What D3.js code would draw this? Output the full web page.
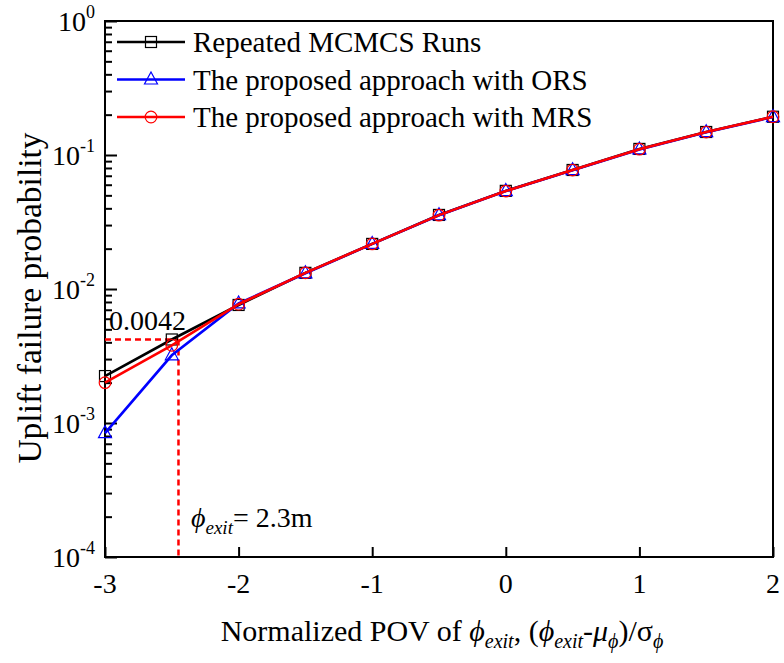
<!DOCTYPE html>
<html>
<head>
<meta charset="utf-8">
<script src="https://cdn.jsdelivr.net/npm/d3@7"></script>
</head>
<body style="margin:0">
<svg id="chart" width="784" height="663" style="display:block;background:#fff"></svg>
<script>
// Normalized POV of phi_exit
const xValues = [-3, -2.5, -2, -1.5, -1, -0.5, 0, 0.5, 1, 1.5, 2];
// Uplift failure probability per method
const mcmcsRuns = [0.00224, 0.0042, 0.0076, 0.0132, 0.0217, 0.0357, 0.054, 0.0773, 0.111, 0.1485, 0.193];
const orsApproach = [0.00084, 0.0032, 0.0078, 0.0131, 0.0217, 0.0355, 0.0538, 0.077, 0.110, 0.148, 0.192];
const mrsApproach = [0.00200, 0.0038, 0.0077, 0.0132, 0.0217, 0.0356, 0.0538, 0.0772, 0.1105, 0.1483, 0.193];
const seriesNames = ["Repeated MCMCS Runs", "The proposed approach with ORS", "The proposed approach with MRS"];
const xTicks = [-3, -2, -1, 0, 1, 2];
const yExponents = [0, -1, -2, -3, -4];
// Annotated threshold point
const markX = -2.45;
const markY = 0.0042;

const svg = d3.select("#chart");
const pLeft = 105, pRight = 773, pTop = 21, pBottom = 557;
const fontFam = '"Liberation Serif", monospace';

const x = d3.scaleLinear().domain([-3, 2]).range([pLeft, pRight]);
const y = d3.scaleLog().domain([1e-4, 1]).range([pBottom, pTop]);

function txt(parent, size) {
  return parent.append("text")
    .attr("font-size", size)
    .style("font-family", fontFam)
    .attr("fill", "#000");
}

// Minor ticks on y axis
const minor = [];
for (let e = -4; e < 0; e++) for (let m = 2; m <= 9; m++) minor.push(m * Math.pow(10, e));

const axisG = svg.append("g");
axisG.append("g")
  .attr("transform", `translate(${pLeft},0)`)
  .call(d3.axisLeft(y).tickValues(minor).tickSize(-7).tickFormat(""))
  .call(g => g.select(".domain").remove())
  .call(g => g.selectAll("line").attr("stroke", "#000").attr("stroke-width", 2));
axisG.append("g")
  .attr("transform", `translate(${pLeft},0)`)
  .call(d3.axisLeft(y).tickValues(yExponents.map(e => Math.pow(10, e))).tickSize(-12).tickFormat(""))
  .call(g => g.select(".domain").remove())
  .call(g => g.selectAll("line").attr("stroke", "#000").attr("stroke-width", 2));
axisG.append("g")
  .attr("transform", `translate(0,${pBottom})`)
  .call(d3.axisBottom(x).tickValues(xTicks).tickSize(-10).tickFormat(""))
  .call(g => g.select(".domain").remove())
  .call(g => g.selectAll("line").attr("stroke", "#000").attr("stroke-width", 2));

// Frame
svg.append("rect")
  .attr("x", pLeft).attr("y", pTop)
  .attr("width", pRight - pLeft).attr("height", pBottom - pTop)
  .attr("fill", "none").attr("stroke", "#000").attr("stroke-width", 2);

const textLayer = svg.append("g");

// Y tick labels (10^n)
yExponents.forEach(e => {
  const t = txt(textLayer, 28)
    .attr("x", pLeft - 10).attr("y", y(Math.pow(10, e)) + 10)
    .attr("text-anchor", "end");
  t.append("tspan").text("10");
  t.append("tspan").attr("dy", -13).attr("font-size", 18).text(String(e));
});

// X tick labels
xTicks.forEach(d => {
  txt(textLayer, 28).attr("x", x(d)).attr("y", 593).attr("text-anchor", "middle").text(d);
});

// Axis titles
const sub = (t, s, fs) => t.append("tspan").attr("font-style", "italic").attr("font-size", fs).attr("dy", 7).text(s);
const xt = txt(textLayer, 30).attr("x", 442).attr("y", 641).attr("text-anchor", "middle");
xt.append("tspan").text("Normalized POV of ");
xt.append("tspan").attr("font-style", "italic").text("ϕ");
sub(xt, "exit", 20);
xt.append("tspan").attr("dy", -7).text(", (");
xt.append("tspan").attr("font-style", "italic").text("ϕ");
sub(xt, "exit", 20);
xt.append("tspan").attr("dy", -7).text("-");
xt.append("tspan").attr("font-style", "italic").text("μ");
sub(xt, "ϕ", 20);
xt.append("tspan").attr("dy", -7).text(")/σ");
sub(xt, "ϕ", 20);

txt(textLayer, 33.5)
  .attr("transform", "translate(41,298) rotate(-90)")
  .attr("text-anchor", "middle")
  .text("Uplift failure probability");

// Dashed guide lines at the annotated point
const guide = svg.append("g").attr("stroke", "#ff0000").attr("stroke-width", 2.5)
  .attr("stroke-dasharray", "6,4").attr("fill", "none");
guide.append("line").attr("x1", pLeft).attr("x2", x(markX)).attr("y1", y(markY)).attr("y2", y(markY));
guide.append("line").attr("x1", x(markX)).attr("x2", x(markX)).attr("y1", y(markY)).attr("y2", pBottom);

txt(textLayer, 28).attr("x", 109).attr("y", 330).text(String(markY));
const pt = txt(textLayer, 28).attr("x", 191).attr("y", 527);
pt.append("tspan").attr("font-style", "italic").text("ϕ");
sub(pt, "exit", 19);
pt.append("tspan").attr("dy", -7).text("= 2.3m");

// Series
const series = [
  { name: seriesNames[0], values: mcmcsRuns, color: "#000000", marker: "square" },
  { name: seriesNames[1], values: orsApproach, color: "#0000ff", marker: "triangle" },
  { name: seriesNames[2], values: mrsApproach, color: "#ff0000", marker: "circle" }
];

function drawMarker(g, type, cx, cy, color) {
  if (type === "square") {
    g.append("rect").attr("x", cx - 5.5).attr("y", cy - 5.5).attr("width", 11).attr("height", 11)
      .attr("fill", "none").attr("stroke", color).attr("stroke-width", 1.2);
  } else if (type === "triangle") {
    g.append("path").attr("d", `M${cx},${cy - 7.5}L${cx + 6.5},${cy + 4.5}L${cx - 6.5},${cy + 4.5}Z`)
      .attr("fill", "none").attr("stroke", color).attr("stroke-width", 1.2);
  } else {
    g.append("circle").attr("cx", cx).attr("cy", cy).attr("r", 5.8)
      .attr("fill", "none").attr("stroke", color).attr("stroke-width", 1.2);
  }
}

const line = d3.line().x((d, i) => x(xValues[i])).y(d => y(d));
series.forEach(s => {
  const g = svg.append("g");
  g.append("path").datum(s.values).attr("d", line)
    .attr("fill", "none").attr("stroke", s.color).attr("stroke-width", 2.6);
  s.values.forEach((v, i) => drawMarker(g, s.marker, x(xValues[i]), y(v), s.color));
});

// Legend
const legend = svg.append("g");
series.forEach((s, i) => {
  const ly = 42 + i * 37.5;
  legend.append("line").attr("x1", 117).attr("x2", 185).attr("y1", ly).attr("y2", ly)
    .attr("stroke", s.color).attr("stroke-width", 2.6);
  drawMarker(legend, s.marker, 151, ly, s.color);
  txt(legend, 29).attr("x", 193).attr("y", ly + 10).text(s.name);
});
</script>
</body>
</html>
